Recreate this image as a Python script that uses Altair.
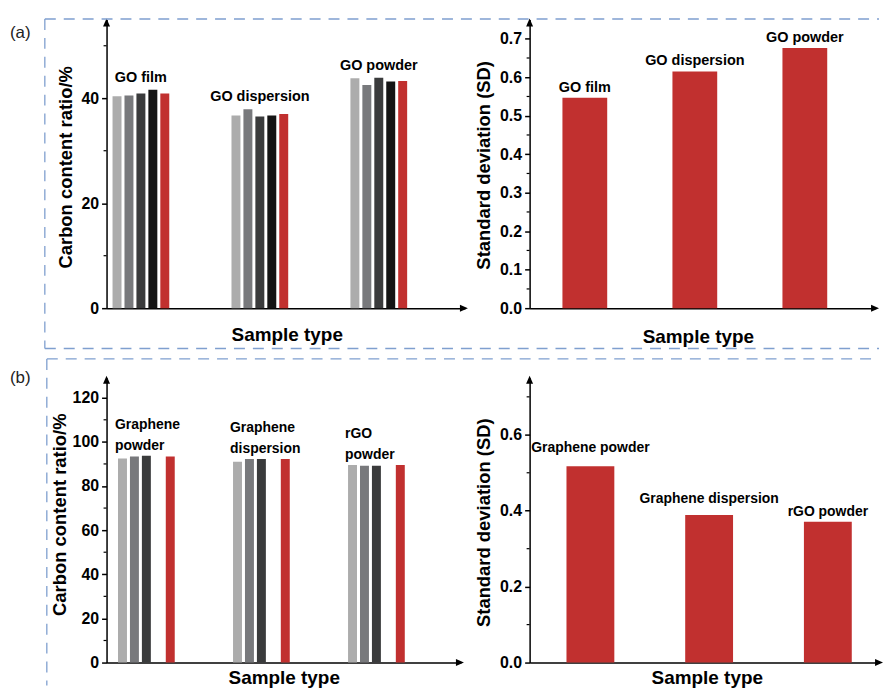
import altair as alt
import pandas as pd

FONT = "Liberation Sans"

# ---------------- data ----------------
series = ["Test 1", "Test 2", "Test 3", "Test 4", "Average"]
colors = ["#acacac", "#78797c", "#3a3b3c", "#141414", "#c1302f"]

groups_a = ["GO film", "GO dispersion", "GO powder"]
a_test1 = [40.4, 36.7, 43.8]
a_test2 = [40.5, 37.9, 42.5]
a_test3 = [40.9, 36.5, 43.9]
a_test4 = [41.6, 36.7, 43.2]
a_avg = [40.9, 37.0, 43.3]
a_sd = [0.547, 0.615, 0.676]

groups_b = ["Graphene powder", "Graphene dispersion", "rGO powder"]
b_test1 = [92.5, 91.0, 89.5]
b_test2 = [93.4, 92.2, 89.2]
b_test3 = [93.7, 92.2, 89.2]
b_avg = [93.4, 92.2, 89.5]
b_sd = [0.517, 0.389, 0.371]

a_left_ticks = [0, 20, 40]
a_left_minor = [10, 30, 50]
a_right_ticks = [0.0, 0.1, 0.2, 0.3, 0.4, 0.5, 0.6, 0.7]
a_right_minor = [0.05, 0.15, 0.25, 0.35, 0.45, 0.55, 0.65]
b_left_ticks = [0, 20, 40, 60, 80, 100, 120]
b_left_minor = [10, 30, 50, 70, 90, 110]
b_right_ticks = [0.0, 0.2, 0.4, 0.6]
b_right_minor = [0.1, 0.3, 0.5, 0.7]


def long_df(groups, cols):
    rows = []
    for s, vals in cols:
        for g, v in zip(groups, vals):
            rows.append({"group": g, "series": s, "value": v})
    return pd.DataFrame(rows)


df_a = long_df(groups_a, [("Test 1", a_test1), ("Test 2", a_test2), ("Test 3", a_test3),
                          ("Test 4", a_test4), ("Average", a_avg)])
df_b = long_df(groups_b, [("Test 1", b_test1), ("Test 2", b_test2), ("Test 3", b_test3),
                          ("Average", b_avg)])
df_sa = pd.DataFrame({"group": groups_a, "value": a_sd})
df_sb = pd.DataFrame({"group": groups_b, "value": b_sd})

one = pd.DataFrame({"k": [0]})
DASH = "#7f9fcf"
RED = "#c1302f"
UP = "M0,-1L0.875,1L-0.875,1Z"
RIGHT = "M1,0L-1,0.875L-1,-0.875Z"


def y_axis(values, fmt, title, tx, ty):
    return alt.Axis(values=values, format=fmt, title=title, grid=False,
                    titleFont=FONT, titleFontSize=18.5, titleFontWeight="bold", titleColor="black",
                    titleX=tx, titleY=ty, titleAlign="center", titleBaseline="middle", titleAngle=-90,
                    labelFont=FONT, labelFontSize=16, labelFontWeight="bold", labelColor="black",
                    labelPadding=3, tickColor="black", tickSize=5, tickWidth=1.5,
                    domainColor="black", domainWidth=1.5)


def x_axis(tx, ty):
    return alt.Axis(labels=False, ticks=False, grid=False, title="Sample type",
                    titleFont=FONT, titleFontSize=19, titleFontWeight="bold", titleColor="black",
                    titleX=tx, titleY=ty, titleAlign="center", titleBaseline="middle",
                    domainColor="black", domainWidth=1.5)


def xscale(groups, pi, po, al):
    return alt.Scale(domain=groups, paddingInner=pi, paddingOuter=po, align=al, round=False)


def minor_ticks(minor, yax):
    return alt.Chart(pd.DataFrame({"value": minor})).mark_rule(
        color="black", strokeWidth=1.2).encode(
        y=alt.Y("value:Q", axis=yax), x=alt.value(-3), x2=alt.value(0))


def arrow(shape, x, y):
    return alt.Chart(one).mark_point(shape=shape, filled=True, color="black", opacity=1,
                                     size=64, strokeWidth=0).encode(x=alt.value(x), y=alt.value(y))


def hrule(x1, x2, y):
    return alt.Chart(one).mark_rule(color=DASH, strokeWidth=1.3, strokeDash=[11, 8]).encode(
        x=alt.value(x1), x2=alt.value(x2), y=alt.value(y))


def vrule(x, y1, y2):
    return alt.Chart(one).mark_rule(color=DASH, strokeWidth=1.3, strokeDash=[11, 8]).encode(
        x=alt.value(x), y=alt.value(y1), y2=alt.value(y2))


def tag(txt, x, y):
    return alt.Chart(one).mark_text(font=FONT, fontSize=17, color="#222", align="left",
                                    baseline="middle").encode(
        x=alt.value(x), y=alt.value(y), text=alt.value(txt))


# ---------------- panel (a) left ----------------
W1, H1 = 360, 290
xa1 = x_axis(181, 26)
ya1 = y_axis(a_left_ticks, "d", "Carbon content ratio/%", -41, 148)
xs1 = xscale(groups_a, 0.523, 0.268, 0.094)
bars_al = alt.Chart(df_a).mark_bar().encode(
    x=alt.X("group:N", sort=groups_a, scale=xs1, axis=xa1),
    xOffset=alt.XOffset("series:N", sort=series,
                        scale=alt.Scale(domain=series, paddingInner=0.25, paddingOuter=0)),
    y=alt.Y("value:Q", scale=alt.Scale(domain=[0, 55], nice=False), axis=ya1),
    color=alt.Color("series:N", scale=alt.Scale(domain=series, range=colors), legend=None),
)
lab_al = alt.Chart(df_a).mark_text(font=FONT, fontSize=14.5, fontWeight="bold", color="black",
                                   baseline="middle", dy=-12).encode(
    x=alt.X("group:N", sort=groups_a, axis=xa1),
    y=alt.Y("max(value):Q", axis=ya1),
    text="group:N")
panel_al = alt.layer(
    bars_al, lab_al, minor_ticks(a_left_minor, ya1),
    arrow(UP, 0, 3), arrow(RIGHT, W1 - 1, H1),
    hrule(-62, 776, -0.5), hrule(-62, 776, 330.5), vrule(-62, -0.5, 330.5),
    tag("(a)", -97, 14),
).properties(width=W1, height=H1)

# ---------------- panel (a) right ----------------
W2, H2 = 347, 290
xa2 = x_axis(169, 28)
ya2 = y_axis(a_right_ticks, ".1f", "Standard deviation (SD)", -46, 146)
bars_ar = alt.Chart(df_sa).mark_bar(color=RED).encode(
    x=alt.X("group:N", sort=groups_a, scale=xscale(groups_a, 0.593, 0.3665, 0.407), axis=xa2),
    y=alt.Y("value:Q", scale=alt.Scale(domain=[0, 0.75], nice=False), axis=ya2),
)
lab_ar = alt.Chart(df_sa).mark_text(font=FONT, fontSize=14.5, fontWeight="bold", color="black",
                                    baseline="middle", dy=-10).encode(
    x=alt.X("group:N", sort=groups_a, axis=xa2),
    y=alt.Y("value:Q", axis=ya2),
    text="group:N")
panel_ar = alt.layer(
    bars_ar, lab_ar, minor_ticks(a_right_minor, ya2),
    arrow(UP, 0, 3), arrow(RIGHT, W2, H2),
).properties(width=W2, height=H2)

# ---------------- panel (b) left ----------------
W3, H3 = 356, 286
xa3 = x_axis(178, 15)
ya3 = y_axis(b_left_ticks, "d", "Carbon content ratio/%", -47, 137)
bars_bl = alt.Chart(df_b).mark_bar().encode(
    x=alt.X("group:N", sort=groups_b, scale=xscale(groups_b, 0.505, 0.293, 0.17), axis=xa3),
    xOffset=alt.XOffset("series:N", sort=series,
                        scale=alt.Scale(domain=series, paddingInner=0.05, paddingOuter=0)),
    y=alt.Y("value:Q", scale=alt.Scale(domain=[0, 129], nice=False), axis=ya3),
    color=alt.Color("series:N", scale=alt.Scale(domain=series, range=colors), legend=None),
)
lab_bl = alt.Chart(df_b).mark_text(font=FONT, fontSize=14, fontWeight="bold", color="black",
                                   align="left", baseline="middle", dy=-31, dx=-3,
                                   lineBreak=" ", lineHeight=21).encode(
    x=alt.X("group:N", sort=groups_b, bandPosition=0, axis=xa3),
    y=alt.Y("max(value):Q", axis=ya3),
    text="group:N")
panel_bl = alt.layer(
    bars_bl, lab_bl, minor_ticks(b_left_minor, ya3),
    arrow(UP, 0, 2), arrow(RIGHT, W3 - 1, H3),
    hrule(-60, 776, -19), vrule(-60, -19, 309),
    tag("(b)", -97, 0),
).properties(width=W3, height=H3)

# ---------------- panel (b) right ----------------
W4, H4 = 351, 286
xa4 = x_axis(178, 15)
ya4 = y_axis(b_right_ticks, ".1f", "Standard deviation (SD)", -46, 145)
bars_br = alt.Chart(df_sb).mark_bar(color=RED).encode(
    x=alt.X("group:N", sort=groups_b, scale=xscale(groups_b, 0.597, 0.27, 0.575), axis=xa4),
    y=alt.Y("value:Q", scale=alt.Scale(domain=[0, 0.75], nice=False), axis=ya4),
)
label_dy = {"Graphene powder": -18, "Graphene dispersion": -16, "rGO powder": -10}
lab_br = [
    alt.Chart(df_sb).transform_filter(alt.datum.group == g).mark_text(
        font=FONT, fontSize=14, fontWeight="bold", color="black", baseline="middle", dy=d).encode(
        x=alt.X("group:N", sort=groups_b, axis=xa4),
        y=alt.Y("value:Q", axis=ya4),
        text="group:N")
    for g, d in label_dy.items()
]
panel_br = alt.layer(
    bars_br, *lab_br, minor_ticks(b_right_minor, ya4),
    arrow(UP, 0, 2), arrow(RIGHT, W4, H4),
).properties(width=W4, height=H4)

chart = alt.concat(
    panel_al, panel_ar, panel_bl, panel_br,
    columns=2, spacing={"row": 70, "column": 65}, bounds="flush", align="none",
).properties(
    padding={"left": 2, "top": 8, "right": 0, "bottom": 0}
).configure_view(stroke=None)

chart.save("out.html", embed_options={"renderer": "svg", "actions": False})
